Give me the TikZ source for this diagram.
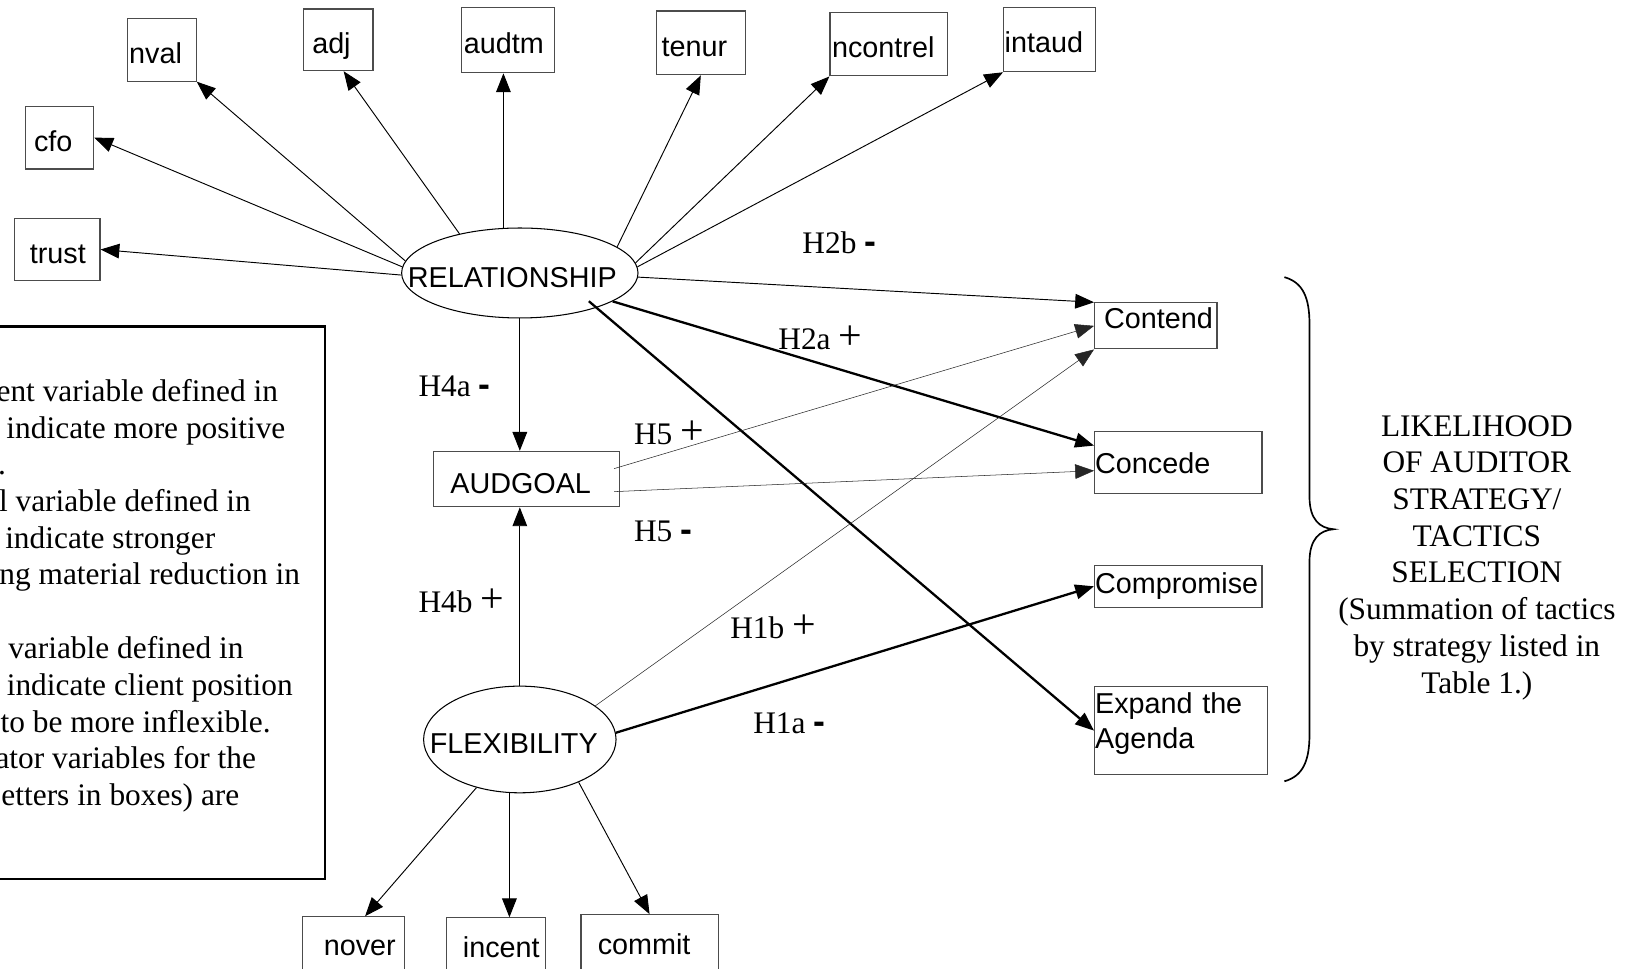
\documentclass[tikz,border=0pt]{standalone}
\usepackage{fontspec}
\setmainfont{Liberation Serif}
\newfontfamily\arialfont{Liberation Sans}
\usetikzlibrary{arrows.meta,calc,shapes.geometric}

\newcommand\boxfont{\arialfont\fontsize{27.5}{33}\selectfont}
\newcommand\notefont{\fontsize{30}{35.1}\selectfont}
\newcommand\hminus{{\arialfont\bfseries\fontsize{34}{34}\selectfont -}}
\newcommand\hplus{{\fontsize{40}{40}\selectfont +}}

\tikzset{
  vbox/.style={draw=black!70, line width=1.1pt, rectangle, anchor=north west,
    inner ysep=0pt, align=left, font=\boxfont, text depth=0pt},
  latent/.style={draw, line width=1pt, ellipse, inner sep=0pt, font=\boxfont,
    text depth=0pt},
  hyp/.style={font=\notefont, inner sep=0pt, anchor=base west},
  legtext/.style={font=\notefont, inner sep=0pt, anchor=base east},
  tipA/.style={-{Triangle[length=18pt,width=14pt]}},
  lk/.style={tipA, line width=0.9pt},
  thinlk/.style={tipA, line width=0.5pt, draw=black!85},
  thk/.style={tipA, line width=2.2pt},
}

\begin{document}
\begin{tikzpicture}[x=1pt, y=-1pt]
\useasboundingbox (0,0) rectangle (1568,926);
\fill[white] (0,0) rectangle (1568,926);
\clip (0,0) rectangle (1568,926);

% indicator boxes of RELATIONSHIP
\node[vbox, minimum width=66pt, minimum height=60pt, inner xsep=2pt, text width=62pt, text height=26pt] (nval) at (121,17) {\rlap{nval}};
\node[vbox, minimum width=66pt, minimum height=59pt, inner xsep=8pt, text width=50pt, text height=27pt] (adj) at (290,8) {\rlap{adj}};
\node[vbox, minimum width=89pt, minimum height=62pt, inner xsep=2pt, text width=85pt, text height=26pt] (audtm) at (441,7) {\rlap{audtm}};
\node[vbox, minimum width=85pt, minimum height=61pt, inner xsep=5pt, text width=75pt, text height=25pt] (tenur) at (627,10) {\rlap{tenur}};
\node[vbox, minimum width=112pt, minimum height=61pt, inner xsep=2pt, text width=108pt, text height=25pt] (ncontrel) at (793,11) {\rlap{ncontrel}};
\node[vbox, minimum width=88pt, minimum height=61pt, inner xsep=1pt, text width=86pt, text height=25pt] (intaud) at (959,7) {\rlap{intaud}};
\node[vbox, minimum width=65pt, minimum height=60pt, inner xsep=8pt, text width=49pt, text height=26pt] (cfo) at (24,101) {\rlap{cfo}};
\node[vbox, minimum width=82pt, minimum height=60pt, inner xsep=15pt, text width=52pt, text height=26pt] (trust) at (13,208) {\rlap{trust}};

% mediator and strategy boxes
\node[vbox, minimum width=178pt, minimum height=53pt, inner xsep=16pt, text width=146pt, text height=27pt] (audgoal) at (414,431) {\rlap{AUDGOAL}};
\node[vbox, minimum width=117pt, minimum height=44pt, inner xsep=9pt, text width=99pt, text height=6pt] (contend) at (1046,289) {\rlap{Contend}};
\node[vbox, minimum width=160pt, minimum height=59pt, inner xsep=0.5pt, text width=159pt, text height=21pt] (concede) at (1046,412) {\rlap{Concede}};
\node[vbox, minimum width=160pt, minimum height=40pt, inner xsep=0.5pt, text width=159pt, text height=14pt] (compromise) at (1046,540) {\rlap{Compromise}};
\node[vbox, minimum width=165pt, minimum height=84pt, inner xsep=0.5pt, text width=164pt, text height=20pt, text depth=52pt] (expand) at (1046,656) {\rlap{Expand the}\\\rlap{Agenda}};

% indicator boxes of FLEXIBILITY
\node[vbox, minimum width=97pt, minimum height=70pt, inner xsep=20pt, text width=57pt, text height=4pt] (nover) at (289,876) {\rlap{nover}};
\node[vbox, minimum width=95pt, minimum height=70pt, inner xsep=16pt, text width=63pt, text height=6pt] (incent) at (426,877) {\rlap{incent}};
\node[vbox, minimum width=131pt, minimum height=70pt, inner xsep=16pt, text width=99pt, text height=6pt] (commit) at (555,874) {\rlap{commit}};

% latent constructs
\node[latent, minimum width=226pt, minimum height=86pt, text height=28pt] (rel) at (497,261) {\makebox[0pt][l]{\hspace{-107pt}RELATIONSHIP}};
\node[latent, minimum width=184pt, minimum height=102pt, text height=26pt] (flex) at (497,707) {\makebox[0pt][l]{\hspace{-86pt}FLEXIBILITY}};

% RELATIONSHIP indicators
\draw[lk] (rel.181) -- (trust.east);
\draw[lk] (rel.177) -- (cfo.east);
\draw[lk] (rel.174) -- (nval.south east);
\draw[lk] (rel.147) -- ($(adj.south)+(5,0)$);
\draw[lk] (rel.110) -- (rel.110 |- audtm.south);
\draw[lk] (rel.15) -- (tenur.south);
\draw[lk] (rel.5) -- (ncontrel.south west);
\draw[lk] (rel.3) -- (intaud.south west);

% hypothesised paths
\draw[lk] (rel.358) -- (contend.north west);
\draw[lk] (rel.south) -- (rel.south |- audgoal.north);
\draw[thk] (rel.343) -- ($(concede.west)+(0,-16)$);
\draw[thk] ($(rel.center)+(66,27)$) -- (expand.west);
\draw[thinlk] ($(audgoal.east)+(-6,-10)$) -- (contend.west);
\draw[thinlk] ($(audgoal.east)+(-6,12)$) -- ($(concede.west)+(0,8)$);
\draw[lk] (flex.north) -- (flex.north |- audgoal.south);
\draw[thinlk] (flex.24) -- (contend.south west);
\draw[thk] (flex.4) -- (compromise.west);

% FLEXIBILITY indicators
\draw[lk] (flex.228) -- ($(nover.north)+(11,0)$);
\draw[lk] (flex.259) -- (flex.259 |- incent.north);
\draw[lk] (flex.324) -- (commit.north);

% hypothesis labels
\node[hyp] (h2b) at (767,242) {H2b \hminus};
\node[hyp] (h2a) at (744,334) {H2a \hplus};
\node[hyp] (h4a) at (400,379) {H4a \hminus};
\node[hyp] (h5p) at (606,425) {H5 \hplus};
\node[hyp] (h5m) at (606,518) {H5 \hminus};
\node[hyp] (h4b) at (400,586) {H4b \hplus};
\node[hyp] (h1b) at (698,610) {H1b \hplus};
\node[hyp] (h1a) at (720,701) {H1a \hminus};

% legend box, partly outside the page
\node[draw, line width=2.5pt, minimum width=340pt, minimum height=528pt, anchor=north east] (legendbox) at (312,311) {};
\node[legtext] (lg1) at (266,384) {ent variable defined in};
\node[legtext] (lg2) at (273,419) {indicate more positive};
\node[font=\notefont, inner sep=0pt, anchor=base west] (lg3) at (-2,454) {.};
\node[legtext] (lg4) at (240,489) {l variable defined in};
\node[legtext] (lg5) at (206,524) {indicate stronger};
\node[legtext] (lg6) at (287,559) {ng material reduction in};
\node[legtext] (lg7) at (233,630) {variable defined in};
\node[legtext] (lg8) at (280,665) {indicate client position};
\node[legtext] (lg9) at (259,700) {to be more inflexible.};
\node[legtext] (lg10) at (245,735) {ator variables for the};
\node[legtext] (lg11) at (229,770) {etters in boxes) are};

% brace grouping the strategies
\draw[line width=1.6pt] (1228,265) .. controls (1246,270) and (1252,285) .. (1252,310)
  -- (1252,475) .. controls (1252,497) and (1262,505) .. (1275,506)
  .. controls (1262,507) and (1252,515) .. (1252,537)
  -- (1252,702) .. controls (1252,727) and (1246,742) .. (1228,747);
\node[font=\notefont, align=center, inner sep=0pt] (outcome) at (1412,533)
  {LIKELIHOOD\\OF AUDITOR\\STRATEGY/\\TACTICS\\SELECTION\\(Summation of tactics\\by strategy listed in\\Table 1.)};
\end{tikzpicture}
\end{document}
